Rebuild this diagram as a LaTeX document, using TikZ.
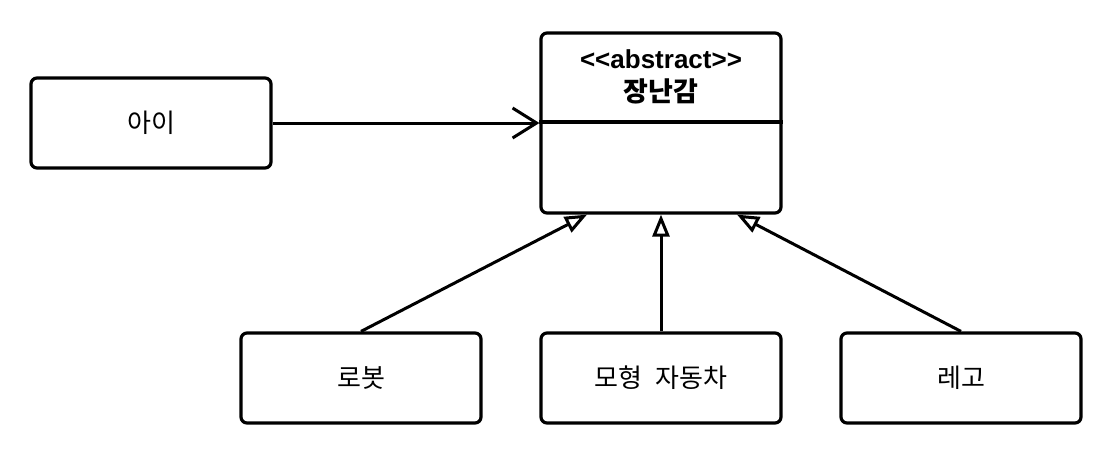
\documentclass[tikz,border=0pt]{standalone}
\usepackage{fontspec}
\setmainfont{Liberation Sans}
\newfontfamily\kr{Noto Sans CJK KR}
\usetikzlibrary{arrows.meta}
\tikzset{
  cls/.style={draw, line width=3.2pt, rounded corners=6pt, minimum width=240pt, minimum height=90pt, inner sep=0pt, font=\kr\fontsize{26}{30}\selectfont},
  assoc/.style={line width=3pt, -{Straight Barb[length=24pt,width=30pt,line width=3pt]}},
  inherit/.style={line width=3pt, -{Triangle[open,fill=white,length=22pt,width=17pt,line width=3pt]}},
}
\begin{document}
\begin{tikzpicture}[x=1pt,y=-1pt]
\useasboundingbox (0,0) rectangle (1108,452);
\node[cls, minimum height=180pt] (toy) at (661,123) {};
\node[font=\bfseries\fontsize{26}{33}\selectfont, align=center] (title) at (661,77) {<\kern0pt<abstract>\kern0pt>\\{\kr\fontsize{27}{33}\selectfont 장난감}};
\draw[line width=3.2pt] (toy.west |- 0,122) coordinate (dl) -- (toy.east |- 0,122) coordinate (dr);
\node[cls] (child) at (151,123) {아이};
\node[cls] (robot) at (361,378) {로봇};
\node[cls] (car) at (661,378) {모형\hspace{7pt} 자동차};
\node[cls] (lego) at (961,378) {레고};
\draw[assoc] (child) -- (toy);
\draw[inherit] (robot.north) -- ([xshift=-74pt]toy.south);
\draw[inherit] (car.north) -- (toy.south);
\draw[inherit] (lego.north) -- ([xshift=76pt]toy.south);
\end{tikzpicture}
\end{document}
